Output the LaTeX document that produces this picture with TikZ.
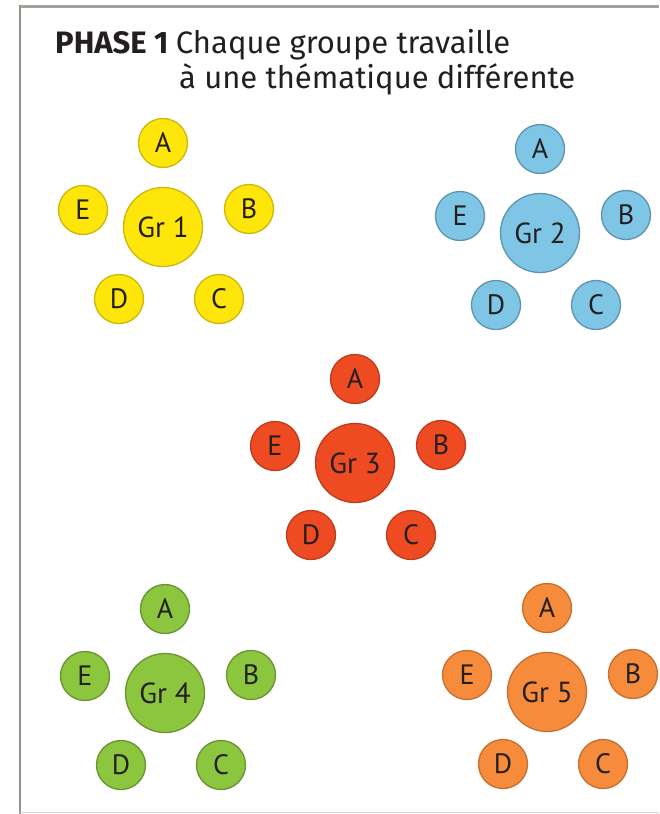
\documentclass[tikz,border=0pt]{standalone}
\usepackage{fontspec}
\setmainfont{PT Sans}
\newfontfamily\titrefont{Fira Sans}
\usepackage{xcolor}
\definecolor{cJaune}{HTML}{FFE60A}
\definecolor{cBleu}{HTML}{7EC5E6}
\definecolor{cRouge}{HTML}{EE4B23}
\definecolor{cVert}{HTML}{8CC63E}
\definecolor{cOrange}{HTML}{F68B3C}
\definecolor{cCadre}{HTML}{A2A39A}
\definecolor{cTexte}{HTML}{231F20}
\usepackage{tikz}
\usetikzlibrary{positioning}
\tikzset{
  node-centre/.style={circle,line width=1.3pt,minimum size=79pt,inner sep=0pt,
    text=cTexte,font=\fontsize{29}{29}\selectfont},
  node-membre/.style={circle,line width=1.3pt,minimum size=49pt,inner sep=0pt,
    text=cTexte,font=\fontsize{28}{28}\selectfont},
  gr-jaune/.style={fill=cJaune,draw=cJaune!80!black},
  gr-bleu/.style={fill=cBleu,draw=cBleu!75!black},
  gr-rouge/.style={fill=cRouge,draw=cRouge!80!black},
  gr-vert/.style={fill=cVert,draw=cVert!75!black},
  gr-orange/.style={fill=cOrange,draw=cOrange!80!black},
  titre/.style={anchor=base west,inner sep=0pt,text=cTexte,
    font=\titrefont\fontsize{31}{31}\selectfont},
}
% un groupe : le centre et ses cinq membres A..E
\newcommand{\groupe}[4]{%
  \node[node-centre,#3] (#1) at (#2) {#4};
  \node[node-membre,#3] (#1-a) at ([shift={(0,-84)}]#1) {A};
  \node[node-membre,#3] (#1-b) at ([shift={(86,-18)}]#1) {B};
  \node[node-membre,#3] (#1-c) at ([shift={(56,72)}]#1) {C};
  \node[node-membre,#3] (#1-d) at ([shift={(-44,72)}]#1) {D};
  \node[node-membre,#3] (#1-e) at ([shift={(-80,-17)}]#1) {E};
}

\begin{document}
\begin{tikzpicture}[x=1pt,y=-1pt]
  \useasboundingbox (0,0) rectangle (659,814);
  % cadre
  \draw[cCadre,line width=3pt] (659,6) -- (20,6);
  \draw[cCadre!90!black,line width=2pt] (20,5) -- (20,814);
  \draw[cCadre!45,line width=1pt] (20,812) -- (659,812);

  \node[titre] (phase) at (55,53) {\textbf{PHASE 1}};
  \node[titre,right=7pt of phase.base east,anchor=base west] (ligne1) {Chaque groupe travaille};
  \node[titre] (ligne2) at (179,88) {à une thématique différente};

  \groupe{gr1}{163,227}{gr-jaune}{Gr 1}
  \groupe{gr2}{540,233}{gr-bleu}{Gr 2}
  \groupe{gr3}{355,463}{gr-rouge}{Gr 3}
  \groupe{gr4}{165,693}{gr-vert}{Gr 4}
  \groupe{gr5}{547,692}{gr-orange}{Gr 5}
\end{tikzpicture}
\end{document}
